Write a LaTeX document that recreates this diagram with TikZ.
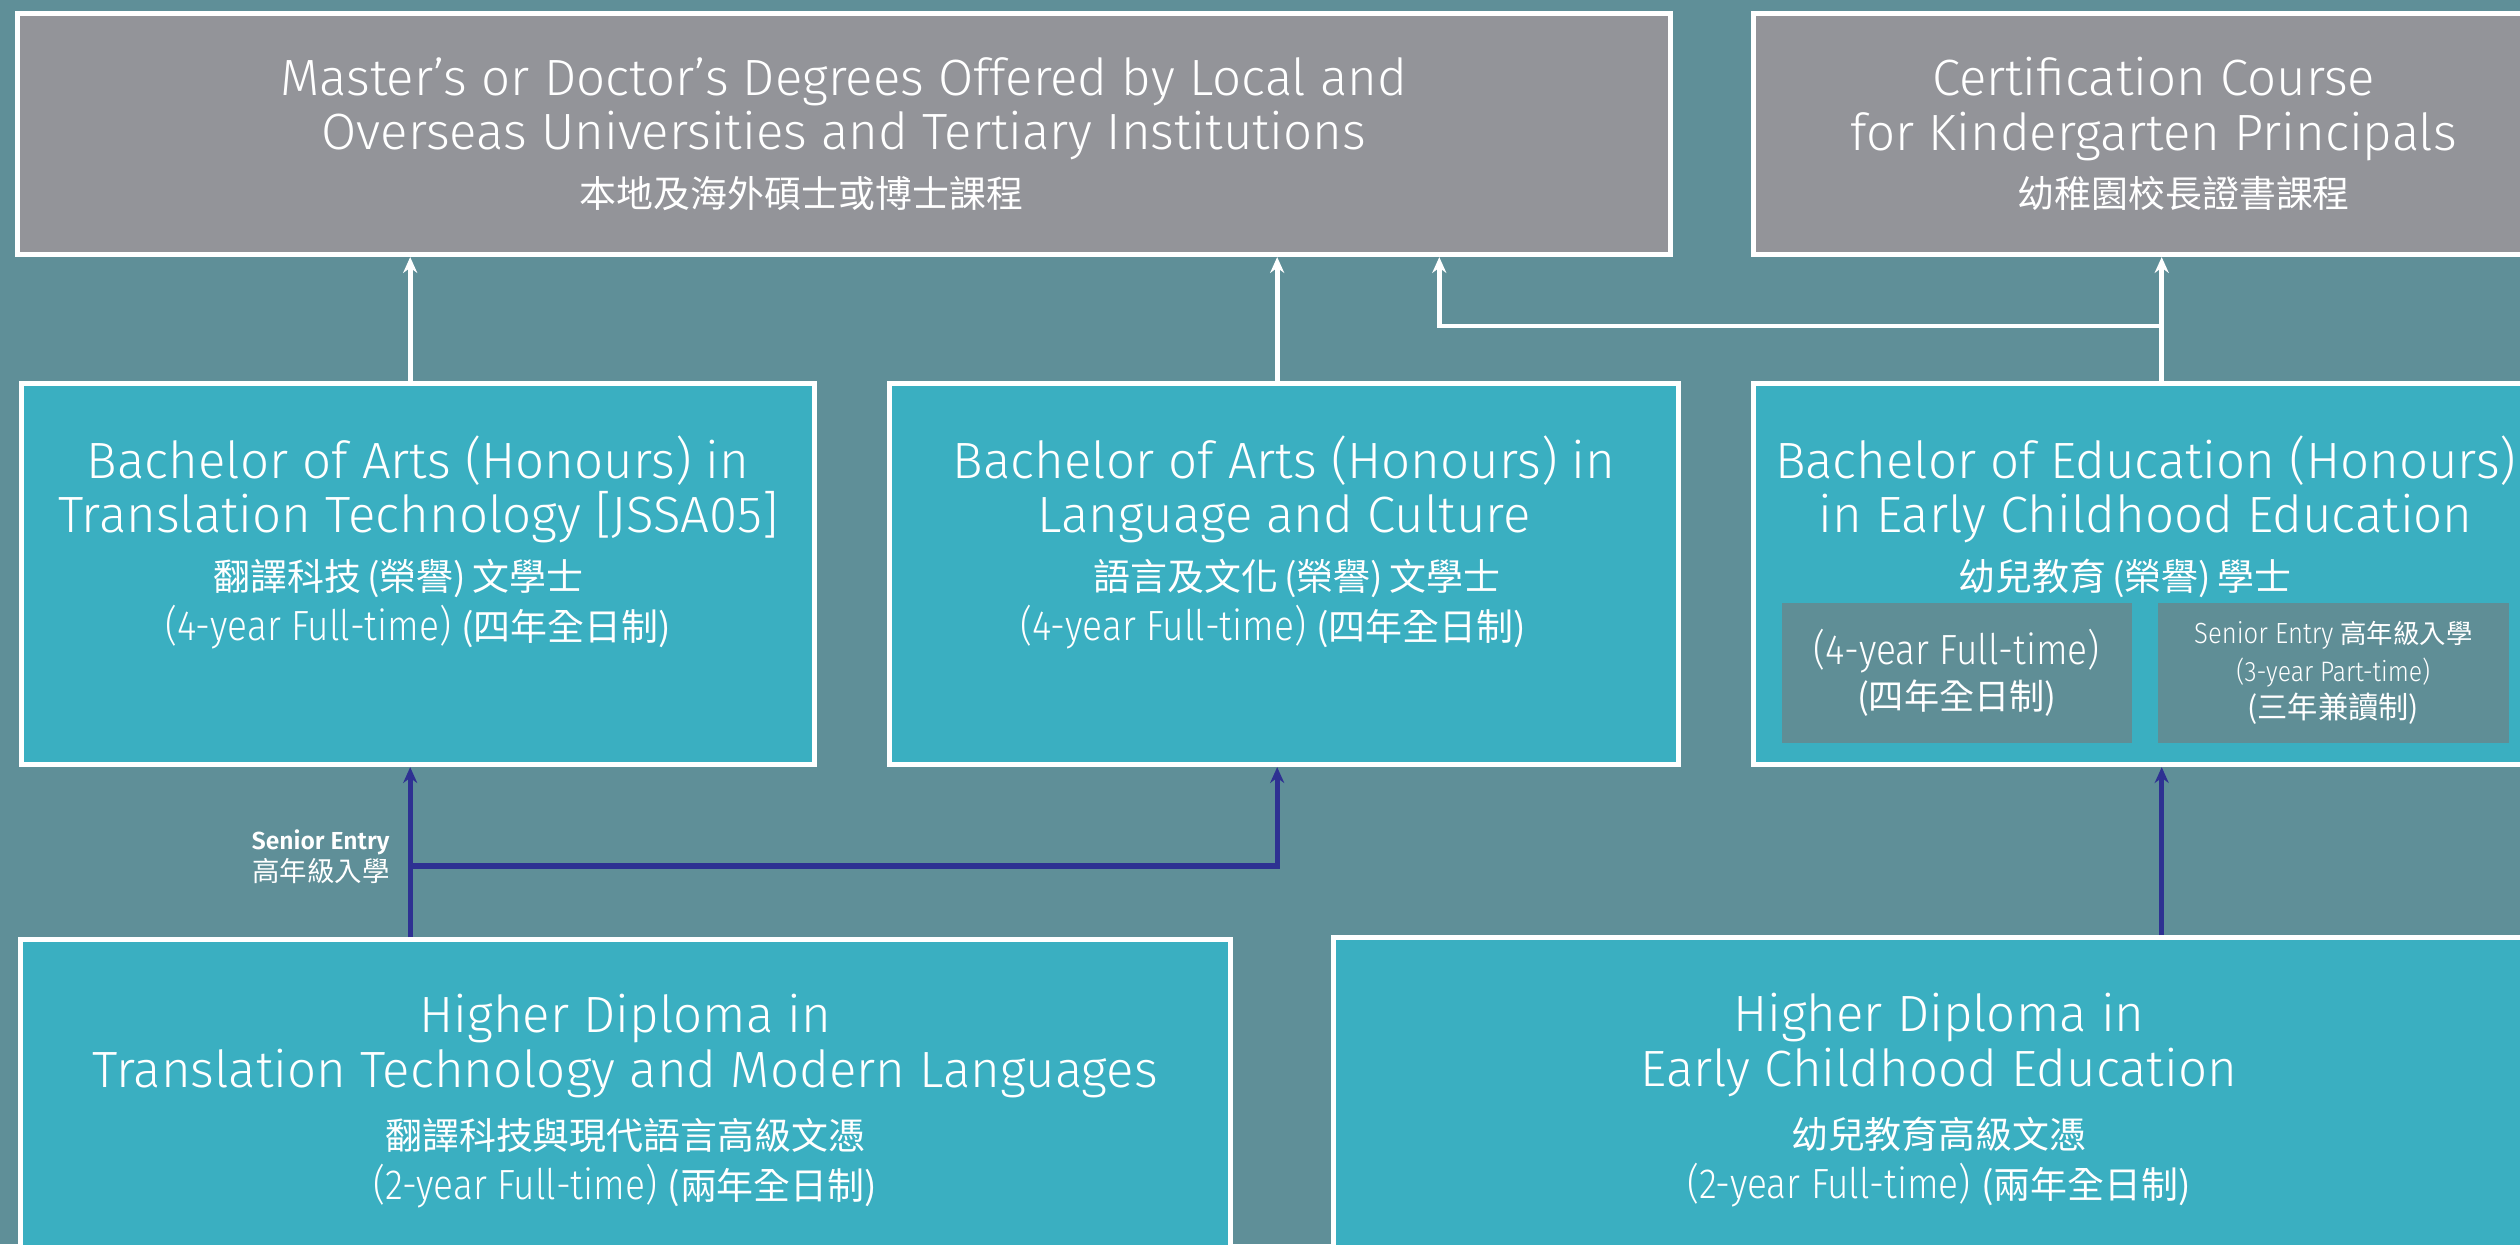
\documentclass[tikz,border=0pt]{standalone}
\usepackage{fontspec}
\setmainfont{Fira Sans}[UprightFont=* Light, BoldFont=* SemiBold]
\newfontfamily\narrowfont{Fira Sans}[UprightFont=* Light, BoldFont=* SemiBold, FakeStretch=0.88]
\newfontfamily\cjk{Noto Sans CJK TC}
\usetikzlibrary{arrows.meta, positioning}

\definecolor{bgteal}{HTML}{5F8F98}
\definecolor{boxgrey}{HTML}{939499}
\definecolor{boxteal}{HTML}{3AAFC1}
\definecolor{innerteal}{HTML}{5F8E96}
\definecolor{pathblue}{HTML}{2E3192}

\newcommand\entitle{\fontsize{14.5}{15.5}\selectfont}   % English programme names
\newcommand\ensub{\narrowfont\fontsize{12}{14.3}\selectfont} % mode of study lines
\newcommand\zhtitle{\cjk\fontsize{10.5}{16.3}\selectfont}  % Chinese programme names
\newcommand\zh[2][10.5]{{\cjk\fontsize{#1}{#1}\selectfont #2}}

\tikzset{
box/.style={draw=white, line width=1.4pt, anchor=north west, inner sep=0pt, text=white}, % every programme box
greybox/.style={box, fill=boxgrey},
tealbox/.style={box, fill=boxteal},
modebox/.style={fill=innerteal, anchor=north west, inner sep=0pt, text=white, minimum height=1.4cm}, % study mode inside a box
upwhite/.style={draw=white, line width=1.4pt, -{Stealth[length=4.5pt, width=4pt]}},
upblue/.style={draw=pathblue, line width=1.5pt, -{Stealth[length=4.5pt, width=4pt]}},
seniorlabel/.style={text=white, inner sep=0pt, align=right, font=\fontsize{7}{9}\selectfont},
}

\begin{document}
\begin{tikzpicture}[x=0.01cm, y=-0.01cm] % one unit is one pixel, y runs downwards
      \useasboundingbox (0,0) rectangle (2520,1244);
      \fill[bgteal] (0,0) rectangle (2520,1244);
      \clip (0,0) rectangle (2520,1244);

      % top row
      \node[greybox, minimum width=16.52cm, minimum height=2.41cm] (masters) at (15,11)
        {\parbox{16.3cm}{\centering
          {\entitle Master’s or Doctor’s Degrees Offered by Local and\\ Overseas Universities and Tertiary Institutions\par}
          {\zhtitle 本地及海外碩士或博士課程\hspace*{0.85cm}\par}}};
      \node[greybox, minimum width=8cm, minimum height=2.41cm] (cert) at (1751,11)
        {\parbox{7.8cm}{\centering
          {\entitle Certification Course\\ for Kindergarten Principals\par}
          {\zhtitle \hspace*{0.6cm}幼稚園校長證書課程\par}}};

      % degrees
      \node[tealbox, minimum width=7.93cm, minimum height=3.81cm] (batt) at (19,381)
        {\parbox[c][2.77cm][t]{7.8cm}{\centering
          {\entitle Bachelor of Arts (Honours) in\\ Translation Technology [JSSA05]\par}
          {\zhtitle 翻譯科技\,(榮譽)\,文學士\hspace*{0.4cm}\par}
          {\ensub (4-year Full-time) \zh{(四年全日制)}\par}}};
      \node[tealbox, minimum width=7.89cm, minimum height=3.81cm] (balc) at (887,381)
        {\parbox[c][2.77cm][t]{7.7cm}{\centering
          {\entitle Bachelor of Arts (Honours) in\\ Language and Culture\par}
          {\zhtitle \hspace*{0.25cm}語言及文化\,(榮譽)\,文學士\par}
          {\ensub (4-year Full-time) \zh{(四年全日制)}\hspace*{0.22cm}\par}}};
      \node[tealbox, minimum width=7.84cm, minimum height=3.81cm] (bed) at (1751,381)
        {\parbox[c][2.77cm][t]{7.74cm}{\centering
          {\entitle Bachelor of Education (Honours)\\ in Early Childhood Education\par}
          {\zhtitle 幼兒教育\,(榮譽)\,學士\hspace*{0.42cm}\par}}};
      \node[modebox, minimum width=3.5cm] (bedft) at (1781,602)
        {\parbox{3.4cm}{\centering
          {\ensub (4-year Full-time)\par}
          {\cjk\fontsize{10}{12.8}\selectfont (四年全日制)\par}}};
      \node[modebox, minimum width=3.51cm] (bedpt) at (2157,602)
        {\parbox{3.4cm}{\centering
          {\narrowfont\fontsize{8.3}{10}\selectfont Senior Entry \zh[7.5]{高年級入學}\par}
          {\narrowfont\fontsize{8}{10.8}\selectfont (3-year Part-time)\par}
          {\cjk\fontsize{8.6}{10.5}\selectfont (三年兼讀制)\par}}};

      % higher diplomas
      \node[tealbox, minimum width=12.09cm, minimum height=3.23cm] (hdtt) at (18,937)
        {\parbox{11.9cm}{\centering
          {\entitle Higher Diploma in\\ Translation Technology and Modern Languages\par}
          {\cjk\fontsize{10.5}{17.6}\selectfont 翻譯科技與現代語言高級文憑\par}
          {\ensub (2-year Full-time) \zh{(兩年全日制)}\par}}};
      \node[tealbox, minimum width=12.1cm, minimum height=3.25cm] (hdece) at (1331,935)
        {\parbox{11.9cm}{\centering
          {\entitle Higher Diploma in\\ Early Childhood Education\par}
          {\cjk\fontsize{10.5}{17.6}\selectfont 幼兒教育高級文憑\par}
          {\ensub (2-year Full-time) \zh{(兩年全日制)}\par}}};

      % progression
      \coordinate (ttx) at ([xshift=-0.08cm]batt.north);
      \coordinate (lcx) at ([xshift=-0.07cm]balc.north);
      \coordinate (edx) at ([xshift=0.16cm]bed.north);
      \coordinate (kjoin) at (edx |- 0,326);
      \coordinate (mjoin) at ([xshift=5.95cm]masters.south);
      \coordinate (tjoin) at (ttx |- 0,866);

      \draw[upwhite] (ttx) -- (ttx |- masters.south);
      \draw[upwhite] (lcx) -- (lcx |- masters.south);
      \draw[upwhite] (edx) -- (edx |- cert.south);
      \draw[upwhite] (kjoin) -| (mjoin);

      \draw[upblue] (ttx |- hdtt.north) -- (ttx |- batt.south);
      \draw[upblue] (tjoin) -| (lcx |- balc.south);
      \draw[upblue] (edx |- hdece.north) -- (edx |- bed.south);

      \node[seniorlabel, left=0.2cm of tjoin, yshift=0.09cm] (senior) {\textbf{Senior Entry}\\ \zh[7.8]{高年級入學}};
\end{tikzpicture}
\end{document}
